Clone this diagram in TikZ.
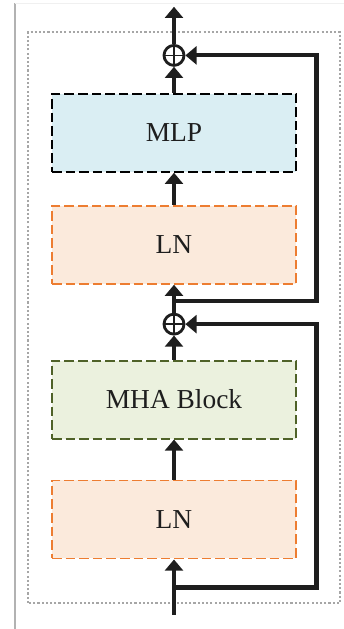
\documentclass[tikz,border=0pt]{standalone}
\usepackage{fontspec}
\setmainfont{Liberation Serif}
\usetikzlibrary{positioning, arrows.meta, calc}

\definecolor{mlpfill}{HTML}{DAEEF3}
\definecolor{lnfill}{HTML}{FBEADC}
\definecolor{lnline}{HTML}{ED7D31}
\definecolor{mhafill}{HTML}{EBF1DE}
\definecolor{mhaline}{HTML}{4F6228}
\definecolor{wire}{HTML}{1E1E1E}

\begin{document}
\begin{tikzpicture}[
    node distance=1cm and 1cm,
    % dashed blocks of the encoder layer
    box/.style={rectangle, draw, dash pattern=on 0.24cm off 0.1cm, line width=1.4pt, align=center, minimum width=6.1cm, minimum height=1.95cm, text=wire, font=\fontsize{19.5}{23}\selectfont},
    lnbox/.style={box, draw=lnline, fill=lnfill},
    mhabox/.style={box, draw=mhaline, fill=mhafill},
    mlpbox/.style={box, draw=black, fill=mlpfill},
    addop/.style={circle, draw=wire, line width=2pt, minimum size=0.5cm, inner sep=0pt,
        path picture={\draw[line width=1pt] (path picture bounding box.north) -- (path picture bounding box.south) (path picture bounding box.west) -- (path picture bounding box.east);}},
    arrow/.style={-{Triangle[width=0.45cm, length=0.28cm]}, line width=3pt, draw=wire},
    frame/.style={draw=gray!70, line width=1.3pt, dash pattern=on 1.5pt off 1.5pt}
]
    \useasboundingbox (0,0) rectangle (8.6,15.725);

    % --- Page edge and dotted layer frame ---
    \draw[gray!60, line width=0.8pt] (0.375,0) -- (0.375,15.65);
    \draw[gray!12, line width=0.6pt] (0.375,15.65) -- (8.6,15.65);
    \draw[frame] (0.7,0.65) rectangle (8.5,14.925);

    % --- Blocks, bottom to top ---
    \node[lnbox] (ln1) at (4.35,2.7375) {LN};
    \node[mhabox] (mha) [above=1cm of ln1] {MHA Block};
    \node[addop] (add1) [above=0.6cm of mha] {};
    \node[lnbox] (ln2) [above=0.7cm of add1] {LN};
    \node[mlpbox] (mlp) [above=0.8cm of ln2] {MLP};
    \node[addop] (add2) [above=0.65cm of mlp] {};

    % --- Input, output, branch points and the residual rail ---
    \coordinate [below=1.38cm of ln1] (in);
    \coordinate [below=0.7cm of ln1] (j1);
    \coordinate (j2) at ($(add1.north)!0.42!(ln2.south)$);
    \coordinate [above=0.93cm of add2] (out);
    \coordinate (rail) at (7.91,0);

    % --- Main path ---
    \draw[arrow] (in) -- (ln1);
    \draw[arrow] (ln1) -- (mha);
    \draw[arrow] (mha) -- (add1);
    \draw[arrow] (add1) -- (ln2);
    \draw[arrow] (ln2) -- (mlp);
    \draw[arrow] (mlp) -- (add2);
    \draw[arrow] (add2) -- (out);

    % --- Skip connections ---
    \draw[arrow] (j1) -| (rail |- add1) -- (add1);
    \draw[arrow] (j2) -| (rail |- add2) -- (add2);
\end{tikzpicture}
\end{document}
